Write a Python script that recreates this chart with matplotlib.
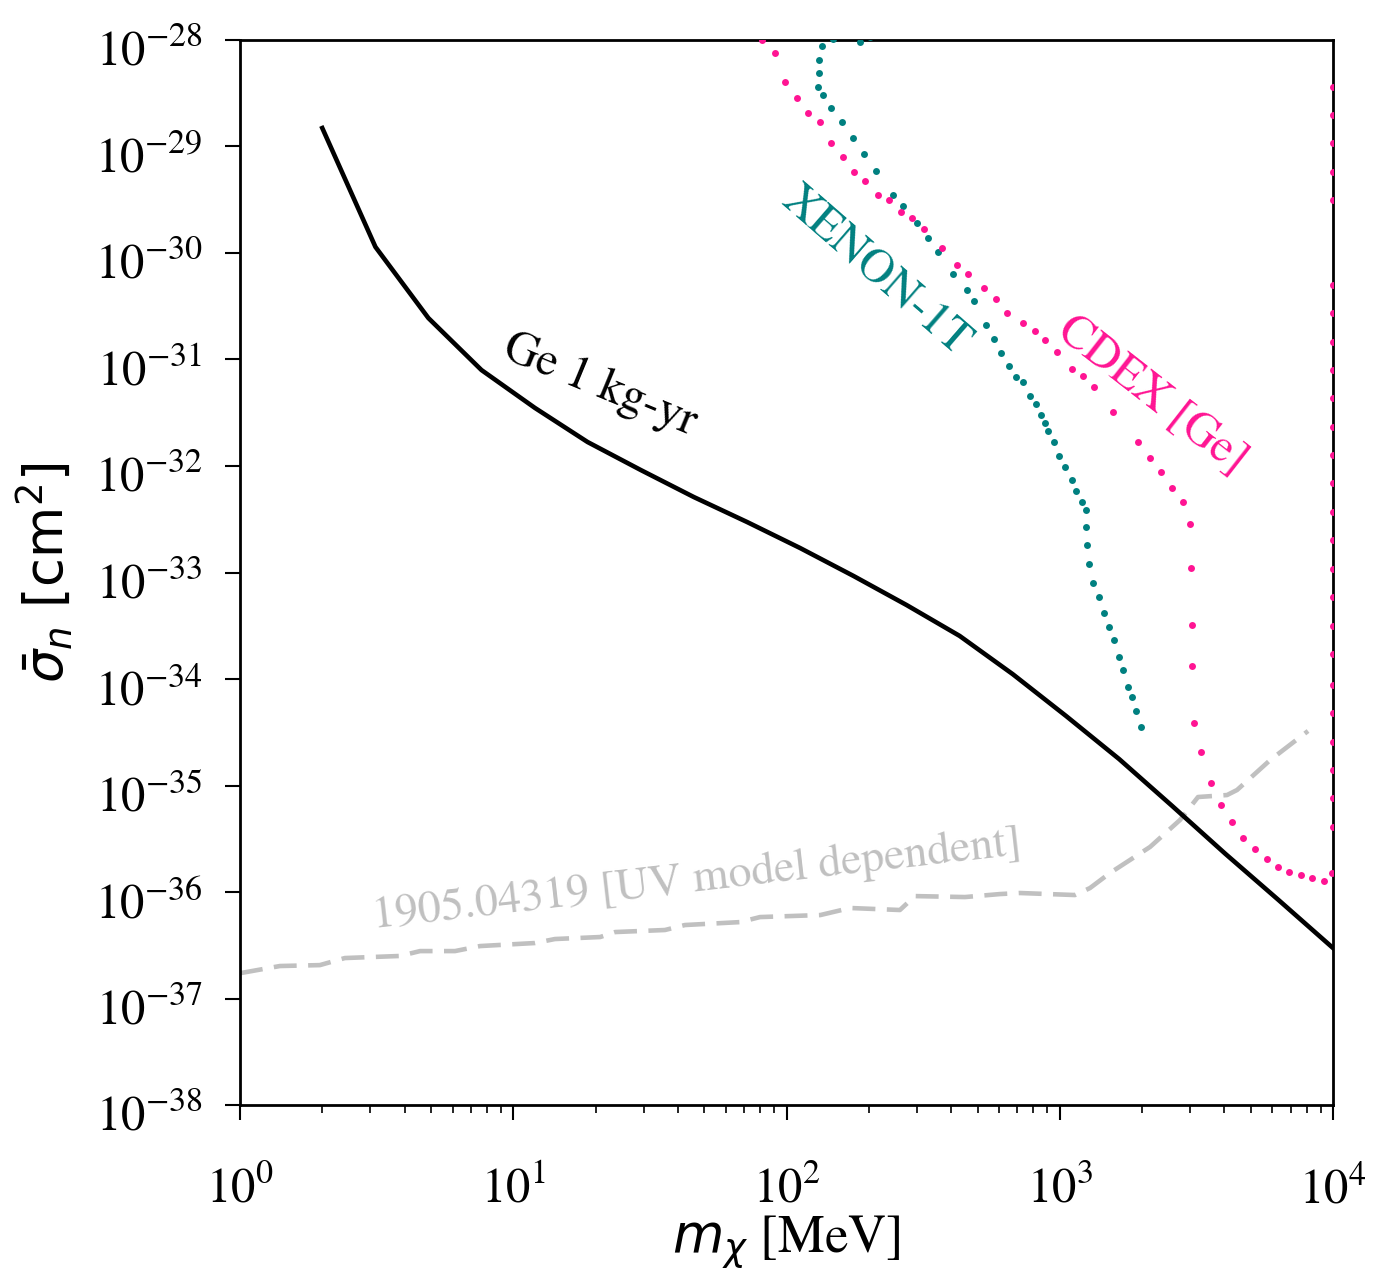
import numpy as np
from matplotlib import pyplot as plt
from matplotlib.ticker import LogLocator, NullLocator
from matplotlib.transforms import ScaledTranslation

plt.rcParams["font.family"] = ["STIXGeneral", "Liberation Serif"]
plt.rcParams["mathtext.fontset"] = "dejavusans"

# Ge 1 kg-yr projection (solid black)
ge_mass = [2.0, 3.13, 4.89, 7.65, 12.0, 18.7, 29.3, 45.8, 71.7, 112,
           176, 275, 430, 673, 1054, 1650, 2580, 4040, 6320, 10000]
ge_sigma = [1.49e-29, 1.14e-30, 2.45e-31, 7.96e-32, 3.51e-32, 1.68e-32,
            9.16e-33, 5.11e-33, 2.98e-33, 1.70e-33, 9.27e-34, 4.95e-34,
            2.54e-34, 1.11e-34, 4.50e-35, 1.77e-35, 6.42e-36, 2.28e-36,
            8.41e-37, 2.98e-37]

# 1905.04319 (dashed grey)
uv_mass = [1.0, 1.40, 1.96, 2.42, 3.85, 4.56, 6.12, 7.56, 12.0, 14.2, 20.8,
           23.6, 35.9, 42.5, 67.6, 80.0, 133, 171, 260, 295, 450, 604, 715,
           1137, 1290, 1527, 2140, 2755, 3206, 4094, 4455, 5882, 8100]
uv_sigma = [1.73e-37, 2.02e-37, 2.06e-37, 2.40e-37, 2.51e-37, 2.79e-37,
            2.79e-37, 3.11e-37, 3.32e-37, 3.62e-37, 3.78e-37, 4.21e-37,
            4.40e-37, 4.90e-37, 5.22e-37, 5.82e-37, 6.08e-37, 7.08e-37,
            6.78e-37, 9.16e-37, 8.97e-37, 9.57e-37, 9.79e-37, 9.37e-37,
            1.09e-36, 1.51e-36, 2.65e-36, 4.75e-36, 7.80e-36, 8.14e-36,
            9.08e-36, 1.73e-35, 3.25e-35]

# CDEX [Ge] limit points, log10 values (pink)
cdex_log_mass = [1.910, 1.958, 1.995, 2.038, 2.079, 2.123, 2.163, 2.207, 2.247,
                 2.287, 2.335, 2.375, 2.419, 2.459, 2.503, 2.569, 2.624, 2.664,
                 2.723, 2.767, 2.807, 2.866, 2.910, 2.946, 2.990, 3.045, 3.085,
                 3.125, 3.195, 3.286, 3.330, 3.371, 3.411, 3.451, 3.477, 3.480,
                 3.484, 3.484, 3.491, 3.517, 3.554, 3.590, 3.630, 3.671, 3.715,
                 3.759, 3.799, 3.839, 3.883, 3.923, 3.967, 3.996,
                 4.0, 4.0, 4.0, 4.0, 4.0, 4.0, 4.0, 4.0, 4.0, 4.0, 4.0, 4.0, 4.0,
                 4.0, 4.0, 4.0, 4.0, 4.0, 4.0, 4.0, 4.0, 4.0, 4.0, 4.0, 4.0]
cdex_log_sigma = [-28.000, -28.122, -28.394, -28.545, -28.685, -28.770, -28.967,
                  -29.099, -29.239, -29.324, -29.455, -29.502, -29.615, -29.671,
                  -29.775, -29.953, -30.113, -30.197, -30.329, -30.432, -30.563,
                  -30.657, -30.732, -30.817, -30.930, -31.089, -31.155, -31.258,
                  -31.493, -31.775, -31.925, -32.056, -32.207, -32.338, -32.545,
                  -32.958, -33.493, -33.878, -34.413, -34.685, -34.977, -35.183,
                  -35.343, -35.493, -35.596, -35.690, -35.765, -35.812, -35.840,
                  -35.869, -35.897, -35.822,
                  -35.390, -35.117, -34.854, -34.592, -34.319, -34.056, -33.765,
                  -33.502, -33.230, -32.967, -32.695, -32.432, -32.160, -31.897,
                  -31.634, -31.362, -31.099, -30.836, -30.563, -30.300, -29.502,
                  -29.239, -28.967, -28.704, -28.441]

# XENON-1T limit points, log10 values (teal)
xenon_log_mass = [2.306, 2.269, 2.170, 2.130, 2.119, 2.119, 2.115, 2.134, 2.163,
                  2.203, 2.243, 2.284, 2.328, 2.390, 2.426, 2.478, 2.518, 2.554,
                  2.609, 2.661, 2.686, 2.730, 2.759, 2.785, 2.814, 2.840, 2.866,
                  2.891, 2.913, 2.931, 2.946, 2.957, 2.979, 2.997, 3.019, 3.045,
                  3.060, 3.081, 3.096, 3.096, 3.100, 3.107, 3.122, 3.144, 3.162,
                  3.180, 3.199, 3.217, 3.232, 3.250, 3.264, 3.279, 3.297]
xenon_log_sigma = [-27.972, -28.019, -27.991, -28.056, -28.188, -28.310, -28.441,
                   -28.516, -28.638, -28.770, -28.920, -29.070, -29.230, -29.455,
                   -29.559, -29.718, -29.859, -29.991, -30.197, -30.347, -30.451,
                   -30.676, -30.808, -30.939, -31.061, -31.164, -31.211, -31.343,
                   -31.418, -31.521, -31.596, -31.671, -31.775, -31.906, -32.009,
                   -32.131, -32.235, -32.338, -32.413, -32.573, -32.742, -32.920,
                   -33.099, -33.230, -33.380, -33.512, -33.634, -33.793, -33.915,
                   -34.075, -34.169, -34.300, -34.451]

pink = "#ff1493"
teal = "#008080"
grey = "#c0c0c0"

fig = plt.figure(figsize=(13.89, 12.69), dpi=100)
ax = fig.add_axes([0.1728, 0.1292, 0.7869, 0.8393])

ax.plot(uv_mass, uv_sigma, color=grey, lw=3.3, dashes=(5, 2.5), zorder=1)
ax.plot(ge_mass, ge_sigma, color="black", lw=3.3, zorder=2)
ax.plot(10 ** np.array(xenon_log_mass), 10 ** np.array(xenon_log_sigma),
        "o", color=teal, ms=5, mew=0, zorder=3)
ax.plot(10 ** np.array(cdex_log_mass), 10 ** np.array(cdex_log_sigma),
        "o", color=pink, ms=5, mew=0, zorder=3)

ax.set_xscale("log")
ax.set_yscale("log")
ax.set_xlim(1, 1e4)
ax.set_ylim(1e-38, 1e-28)
ax.yaxis.set_major_locator(LogLocator(base=10, numticks=20))
ax.yaxis.set_minor_locator(NullLocator())

ax.tick_params(which="major", length=11, width=1.5, labelsize=35)
ax.tick_params(axis="y", which="major", pad=16)
ax.tick_params(axis="x", which="major", pad=34)
ax.tick_params(which="minor", length=5.5, width=1.2)
for s in ax.spines.values():
    s.set_linewidth(2)

# nudge y tick labels down, the exponents sit high
shift = ScaledTranslation(0, -8 / 100, fig.dpi_scale_trans)
for tick in ax.yaxis.get_major_ticks():
    tick.label1.set_transform(tick.label1.get_transform() + shift)

ax.set_xlabel(r"$m_\chi$ [MeV]", fontsize=38, labelpad=0)
ax.set_ylabel(r"$\bar{\sigma}_n~[\mathrm{cm}^2]$", fontsize=38, labelpad=14)

txt = dict(ha="center", va="center", rotation_mode="anchor", fontsize=34)
ax.text(20.8, 5.77e-32, "Ge 1 kg-yr", rotation=-22.5, color="black", **txt)
ax.text(211, 6.64e-31, "XENON-1T", rotation=-41, color=teal, **txt)
ax.text(2176, 4.64e-32, "CDEX [Ge]", rotation=-38, color=pink, **txt)
ax.text(47.0, 1.30e-36, "1905.04319 [UV model dependent]", rotation=6.5,
        color=grey, ha="center", va="center", rotation_mode="anchor", fontsize=33)

fig.savefig("out.png", dpi=100)
